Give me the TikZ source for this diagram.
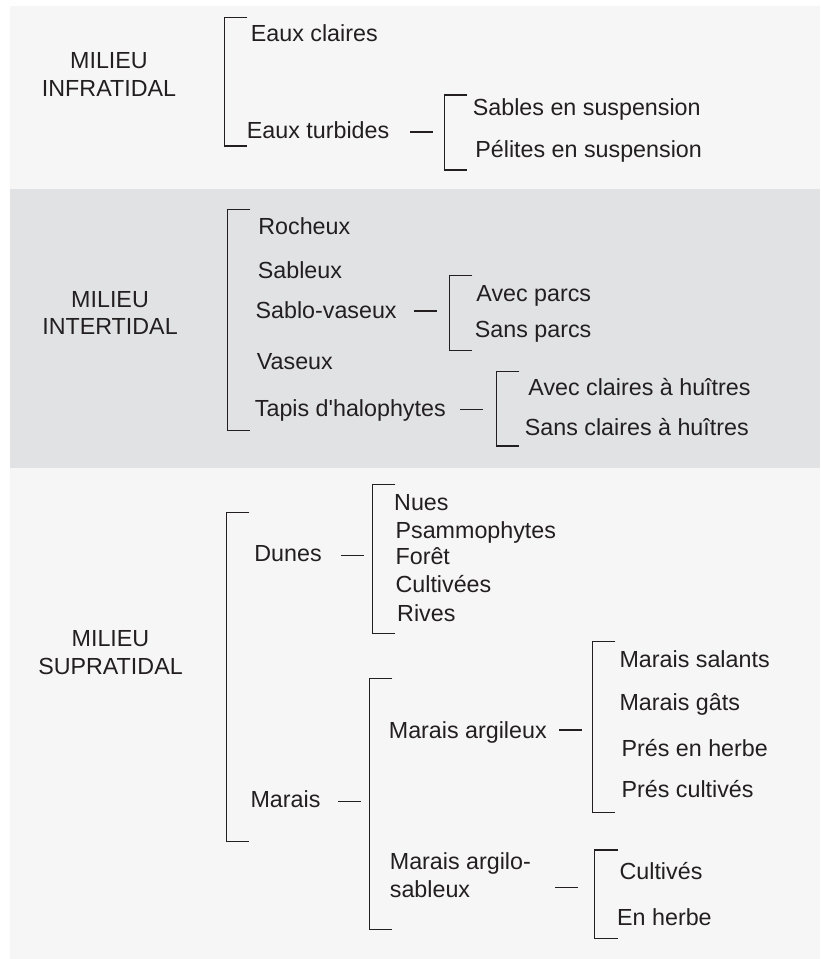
\documentclass[tikz,border=0pt]{standalone}
\usepackage{fontspec}
\setmainfont{Liberation Sans}
\definecolor{ink}{HTML}{231F20}
\definecolor{bandlight}{HTML}{F6F6F6}
\definecolor{banddark}{HTML}{E1E2E4}
\begin{document}
\begin{tikzpicture}[x=0.5pt,y=-0.5pt,
  lbl/.style={anchor=base west,inner sep=0pt,text=ink,font=\fontsize{11.64pt}{13.7pt}\selectfont},
  milieu/.style={anchor=center,inner sep=0pt,align=center,text=ink,font=\fontsize{11.64pt}{13.8pt}\selectfont},
  brk/.style={draw=ink,line width=0.65pt},
  dsh/.style={draw=ink,line width=0.65pt}]
\useasboundingbox (0,0) rectangle (820,959);
% bands
\fill[bandlight] (10,5.5) rectangle (820,189);
\fill[banddark] (10,189) rectangle (820,468);
\fill[bandlight] (10,468) rectangle (820,959);

% milieu labels
\node[milieu] (infra) at (109,74.5) {MILIEU\\INFRATIDAL};
\node[milieu] (inter) at (110,312.8) {MILIEU\\INTERTIDAL};
\node[milieu] (supra) at (110.5,652.5) {MILIEU\\SUPRATIDAL};

% infratidal
\node[lbl] (eauxcl) at (250.5,41.7) {Eaux claires};
\node[lbl] (eauxtu) at (246.5,138.3) {Eaux turbides};
\node[lbl] (sables) at (472.5,115) {Sables en suspension};
\node[lbl] (pelites) at (475,157.7) {Pélites en suspension};

% intertidal
\node[lbl] (rocheux) at (258,234.3) {Rocheux};
\node[lbl] (sableux) at (257.5,278.3) {Sableux};
\node[lbl] (sablova) at (255.2,318.3) {Sablo-vaseux};
\node[lbl] (vaseux) at (256.5,369) {Vaseux};
\node[lbl] (tapis) at (254.5,416.7) {Tapis d\textquotesingle halophytes};
\node[lbl] (avecparcs) at (476,301.7) {Avec parcs};
\node[lbl] (sansparcs) at (474.5,337.3) {Sans parcs};
\node[lbl] (avecclaires) at (528,395.7) {Avec claires à huîtres};
\node[lbl] (sansclaires) at (524.5,435) {Sans claires à huîtres};

% supratidal
\node[lbl] (dunes) at (254,561.7) {Dunes};
\node[lbl] (nues) at (393.8,510) {Nues};
\node[lbl] (psammo) at (395.2,538.3) {Psammophytes};
\node[lbl] (foret) at (395.2,564) {Forêt};
\node[lbl] (cultivees) at (395.2,592.7) {Cultivées};
\node[lbl] (rives) at (396.8,621.7) {Rives};
\node[lbl] (marais) at (250.2,807.3) {Marais};
\node[lbl] (maraisarg) at (388.5,738.3) {Marais argileux};
\node[lbl,align=left] (maraisargs) at (389.5,897.3) {Marais argilo-\\sableux};
\node[lbl] (salants) at (619.2,667.7) {Marais salants};
\node[lbl] (gats) at (619.2,710.7) {Marais gâts};
\node[lbl] (presherbe) at (621.2,756.7) {Prés en herbe};
\node[lbl] (prescult) at (621.2,797.3) {Prés cultivés};
\node[lbl] (cultives) at (619.2,879.3) {Cultivés};
\node[lbl] (enherbe) at (616.8,925) {En herbe};

% bracket corners
\coordinate (b1t) at (224.3,17.3);  \coordinate (b1b) at (224.3,146);
\coordinate (b2t) at (444.3,95);    \coordinate (b2b) at (444.3,170);
\coordinate (b3t) at (227.3,209.3); \coordinate (b3b) at (227.3,430.7);
\coordinate (b4t) at (449.3,275.3); \coordinate (b4b) at (449.3,350.7);
\coordinate (b5t) at (496.3,371.7); \coordinate (b5b) at (496.3,446);
\coordinate (b6t) at (226.3,512.3); \coordinate (b6b) at (226.3,841.3);
\coordinate (b7t) at (372.3,484.3); \coordinate (b7b) at (372.3,633.3);
\coordinate (b8t) at (369.3,678.7); \coordinate (b8b) at (369.3,929.3);
\coordinate (b9t) at (592.3,641.7); \coordinate (b9b) at (592.3,812.7);
\coordinate (b10t) at (594.7,850);  \coordinate (b10b) at (594.7,938.3);

\foreach \b in {b1,b2,b3,b4,b5,b6,b7,b8,b9,b10}
  \draw[brk] ([xshift=11.5pt]\b t) -- (\b t) -- (\b b) -- ([xshift=11.5pt]\b b);

% dashes (parent -> bracket)
\coordinate (d2a) at (410,132);     \coordinate (d2b) at (432.7,132);
\coordinate (d4a) at (414,311);     \coordinate (d4b) at (436.7,311);
\coordinate (d5a) at (460,409.3);   \coordinate (d5b) at (482.7,409.3);
\coordinate (d7a) at (341.3,555.3); \coordinate (d7b) at (363.7,555.3);
\coordinate (d8a) at (338.3,801.7); \coordinate (d8b) at (361,801.7);
\coordinate (d9a) at (559.3,730);   \coordinate (d9b) at (581.7,730);
\coordinate (d10a) at (555,887.3);  \coordinate (d10b) at (577.7,887.3);
\foreach \d in {d2,d4,d5,d7,d8,d9,d10}
  \draw[dsh] (\d a) -- (\d b);
\end{tikzpicture}
\end{document}
